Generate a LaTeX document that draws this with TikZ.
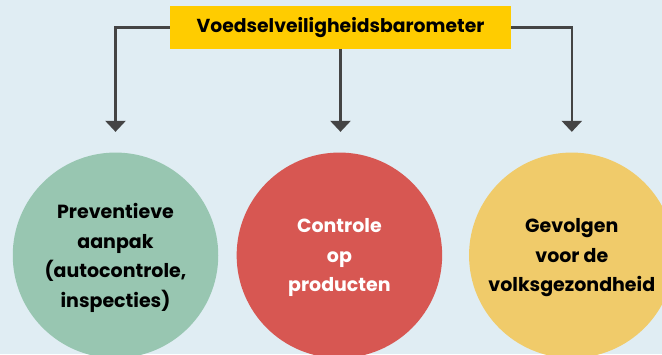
\documentclass[tikz,border=0pt]{standalone}
\usepackage{fontspec}
\setmainfont{Poppins}
\usetikzlibrary{arrows.meta}
\definecolor{bgc}{HTML}{E0EDF3}
\definecolor{titlec}{HTML}{FFCC00}
\definecolor{greenc}{HTML}{98C6B1}
\definecolor{redc}{HTML}{D75752}
\definecolor{yellowc}{HTML}{F0CB6A}
\definecolor{linec}{HTML}{444444}
\tikzset{
  blob/.style={circle, minimum size=205.5pt, inner sep=0pt},
  blobtext/.style={align=center, inner sep=0pt, yshift=-2.5pt,
    font=\fontsize{19}{29.5}\selectfont\bfseries},
  titlebox/.style={fill=titlec, minimum width=341pt, minimum height=42.5pt,
    inner sep=0pt, font=\fontsize{18.8}{22}\selectfont\bfseries},
  conn/.style={draw=linec, line width=2.5pt,
    -{Triangle[width=20pt,length=11pt]}, shorten >=20.5pt}
}
\begin{document}
\begin{tikzpicture}[x=1pt,y=-1pt]
\useasboundingbox (0,0) rectangle (662,354);
\fill[bgc] (0,0) rectangle (662,354);
\clip (0,0) rectangle (662,354);
\node[titlebox] (title) at (340.5,27.3) {Voedselveiligheidsbarometer};
\node[blob, fill=greenc] (prev) at (115.5,255.3) {};
\node[blob, fill=redc] (ctrl) at (339.4,255.3) {};
\node[blob, fill=yellowc] (gev) at (571.8,255.3) {};
\node[blobtext, text=black] (prevt) at (prev.center)
  {Preventieve\\aanpak\\(autocontrole,\\inspecties)};
\node[blobtext, text=white] (ctrlt) at (ctrl.center)
  {Controle\\op\\producten};
\node[blobtext, text=black] (gevt) at (gev.center)
  {Gevolgen\\voor de\\volksgezondheid};
\draw[conn] (title.west) -| (prev.north);
\draw[conn] (title.south) -- (title.south |- ctrl.north);
\draw[conn] (title.east) -| (gev.north);
\end{tikzpicture}
\end{document}
